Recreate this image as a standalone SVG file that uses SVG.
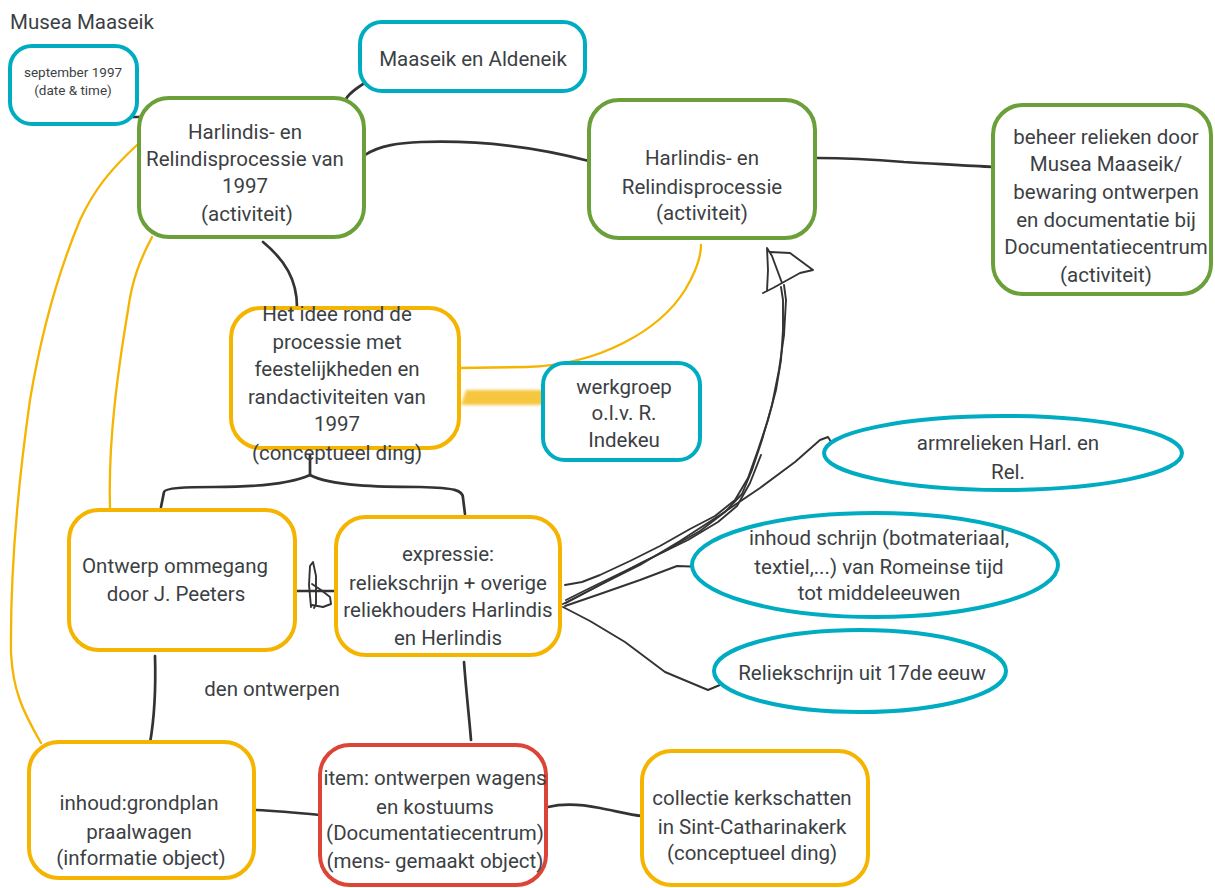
<svg xmlns="http://www.w3.org/2000/svg" width="1215" height="888" viewBox="0 0 1215 888">
<defs>
<style>
.t{font-family:Roboto,"Liberation Sans",sans-serif;font-size:20.5px;fill:#3c3f44;text-anchor:middle}
.s{font-size:13.5px}
.g{fill:#fff;stroke:#6a9f3a;stroke-width:4}
.c{fill:#fff;stroke:#00acc1;stroke-width:4}
.y{fill:#fff;stroke:#f4b400;stroke-width:4}
.r{fill:#fff;stroke:#db4437;stroke-width:4}
.k{fill:none;stroke:#333;stroke-width:2.7;stroke-linecap:round;stroke-linejoin:round}
.kt{fill:none;stroke:#333;stroke-width:1.9;stroke-linecap:round;stroke-linejoin:round}
.yl{fill:none;stroke:#f4b400;stroke-width:2.3;stroke-linecap:round}
</style>
<filter id="blur" x="-20%" y="-50%" width="140%" height="200%"><feGaussianBlur stdDeviation="1.5"/></filter>
</defs>
<rect width="1215" height="888" fill="#fff"/>
<text class="t" x="10" y="29" style="text-anchor:start">Musea Maaseik</text>

<g id="connectors">
<path class="yl" d="M137,145 C110,170 94,190 80,220 C55,280 40,340 30,400 C20,470 10,560 11,653 C13,690 22,710 41,743"/>
<path class="yl" d="M152,237 C140,260 132,280 128,310 C118,370 108,440 110,508"/>
<path class="yl" d="M459,368 L526,367 C600,365 660,330 685,290 C697,270 701,255 701,245"/>
<polygon points="466,390 561,390 549,405 461,405" fill="#f4b400" opacity="0.75" filter="url(#blur)"/>
<path class="k" d="M132,117 L143,117"/>
<path class="k" d="M371,79 C360,86 350,92 346,99"/>
<path class="k" d="M365,155 C380,145 400,143 421,142 C480,140 540,148 589,161"/>
<path class="k" d="M817,158 C850,158 880,160 904,162 C940,164 970,166 993,167"/>
<path class="k" d="M263,242 C285,260 297,280 297,307"/>
<path class="k" d="M310,455 L310,475 C290,484 250,487 214,487 C185,487 165,488 164,492 L161,507"/>
<path class="k" d="M310,475 C330,486 380,487 420,487 C455,488 463,490 463,498 L465,514"/>
<path class="k" d="M294,591 L334,591"/>
<path class="kt" d="M311,607 L309,585 L310,566 L313,562 L316,576 L316,604 L314,608 M312,584 L321,590 L330,597 L331,604 L323,607 L312,605"/>
<path class="k" d="M155,656 C156,690 154,720 150,743"/>
<path class="k" d="M464,662 C466,690 469,715 471,740"/>
<path class="k" d="M256,810 C280,811 300,813 320,815"/>
<path class="k" d="M548,807 C560,804 575,803 600,808 C620,812 632,815 642,816"/>
<path class="kt" d="M565,585 L582,582 L600,575 L630,561 L660,546 L690,529 L715,516 L735,500 L748,478 L758,450 L768,420 L776,390 L781,360 L783,330 L783,300 L781,287"/>
<path class="kt" d="M566,600 L590,588 L625,571 L665,551 L700,531 L725,512 L742,494 L752,470 L762,440 L772,405 L779,370 L784,335 L786,300 L784,285"/>
<path class="kt" d="M563,604 L598,586 L643,562 L688,540 L718,522 L737,506 L750,483 L761,455"/>
<path class="kt" d="M767,291 L768,270 L767,248 L772,256 L782,283 M770,252 L790,253 L813,270 L800,273 L782,283 L773,288 L763,293"/>
<path class="kt" d="M566,603 L600,585 L640,565 L680,541 L720,515 L760,488 L795,462 L820,440 L828,437 L833,445"/>
<path class="kt" d="M565,606 L600,594 L640,580 L677,566 L705,567"/>
<path class="kt" d="M563,607 L590,621 L625,642 L665,672 L708,690 L727,682"/>
</g>

<g id="n-sept"><rect class="c" x="10" y="46" width="127" height="78" rx="22"/>
<text class="t s" x="73" y="77">september 1997</text><text class="t s" x="73" y="95">(date &amp; time)</text></g>

<g id="n-maaseik"><rect class="c" x="360" y="22" width="225" height="69" rx="22"/>
<text class="t" x="473" y="66">Maaseik en Aldeneik</text></g>

<g id="n-proc1997"><rect class="g" x="139" y="98" width="225" height="139" rx="30"/>
<text class="t" x="245" y="139">Harlindis- en</text><text class="t" x="245" y="166">Relindisprocessie van</text><text class="t" x="245" y="193">1997</text><text class="t" x="247" y="221">(activiteit)</text></g>

<g id="n-proc"><rect class="g" x="589" y="100" width="226" height="138" rx="30"/>
<text class="t" x="702" y="165">Harlindis- en</text><text class="t" x="702" y="194">Relindisprocessie</text><text class="t" x="702" y="220">(activiteit)</text></g>

<g id="n-beheer"><rect class="g" x="993" y="105" width="218" height="189" rx="30"/>
<text class="t" x="1106" y="144">beheer relieken door</text><text class="t" x="1106" y="171">Musea Maaseik/</text><text class="t" x="1106" y="199">bewaring ontwerpen</text><text class="t" x="1106" y="227">en documentatie bij</text><text class="t" x="1106" y="254">Documentatiecentrum</text><text class="t" x="1106" y="282">(activiteit)</text></g>

<g id="n-idee"><rect class="y" x="231" y="308" width="228" height="140" rx="30"/>
<text class="t" x="337" y="321">Het idee rond de</text><text class="t" x="337" y="349">processie met</text><text class="t" x="337" y="376">feestelijkheden en</text><text class="t" x="337" y="404">randactiviteiten van</text><text class="t" x="337" y="431">1997</text><text class="t" x="337" y="460">(conceptueel ding)</text></g>

<g id="n-werkgroep"><rect class="c" x="543" y="363" width="157" height="97" rx="22"/>
<text class="t" x="624" y="394">werkgroep</text><text class="t" x="624" y="420">o.l.v. R.</text><text class="t" x="624" y="447">Indekeu</text></g>

<g id="n-ontwerp"><rect class="y" x="69" y="510" width="226" height="140" rx="30"/>
<text class="t" x="175" y="573">Ontwerp ommegang</text><text class="t" x="176" y="601">door J. Peeters</text></g>

<g id="n-expressie"><rect class="y" x="336" y="517" width="224" height="138" rx="30"/>
<text class="t" x="448" y="561">expressie:</text><text class="t" x="448" y="590">reliekschrijn + overige</text><text class="t" x="448" y="617">reliekhouders Harlindis</text><text class="t" x="448" y="645">en Herlindis</text></g>

<g id="n-arm"><ellipse class="c" cx="1003" cy="453" rx="179" ry="37"/>
<text class="t" x="1008" y="450">armrelieken Harl. en</text><text class="t" x="1008" y="479">Rel.</text></g>

<g id="n-inhoudschrijn"><ellipse class="c" cx="875" cy="565" rx="183" ry="52"/>
<text class="t" x="879" y="545">inhoud schrijn (botmateriaal,</text><text class="t" x="879" y="574">textiel,...) van Romeinse tijd</text><text class="t" x="879" y="600">tot middeleeuwen</text></g>

<g id="n-reliek17"><ellipse class="c" cx="860" cy="671" rx="146" ry="41"/>
<text class="t" x="862" y="680">Reliekschrijn uit 17de eeuw</text></g>

<text class="t" x="272" y="696">den ontwerpen</text>

<g id="n-inhoud"><rect class="y" x="29" y="742" width="225" height="136" rx="30"/>
<text class="t" x="139" y="810">inhoud:grondplan</text><text class="t" x="139" y="839">praalwagen</text><text class="t" x="141" y="865">(informatie object)</text></g>

<g id="n-item"><rect class="r" x="320" y="745" width="226" height="140" rx="30"/>
<text class="t" x="435" y="785">item: ontwerpen wagens</text><text class="t" x="435" y="814">en kostuums</text><text class="t" x="435" y="840">(Documentatiecentrum)</text><text class="t" x="435" y="868">(mens- gemaakt object)</text></g>

<g id="n-collectie"><rect class="y" x="642" y="751" width="226" height="134" rx="30"/>
<text class="t" x="752" y="805">collectie kerkschatten</text><text class="t" x="752" y="834">in Sint-Catharinakerk</text><text class="t" x="752" y="860">(conceptueel ding)</text></g>
</svg>
